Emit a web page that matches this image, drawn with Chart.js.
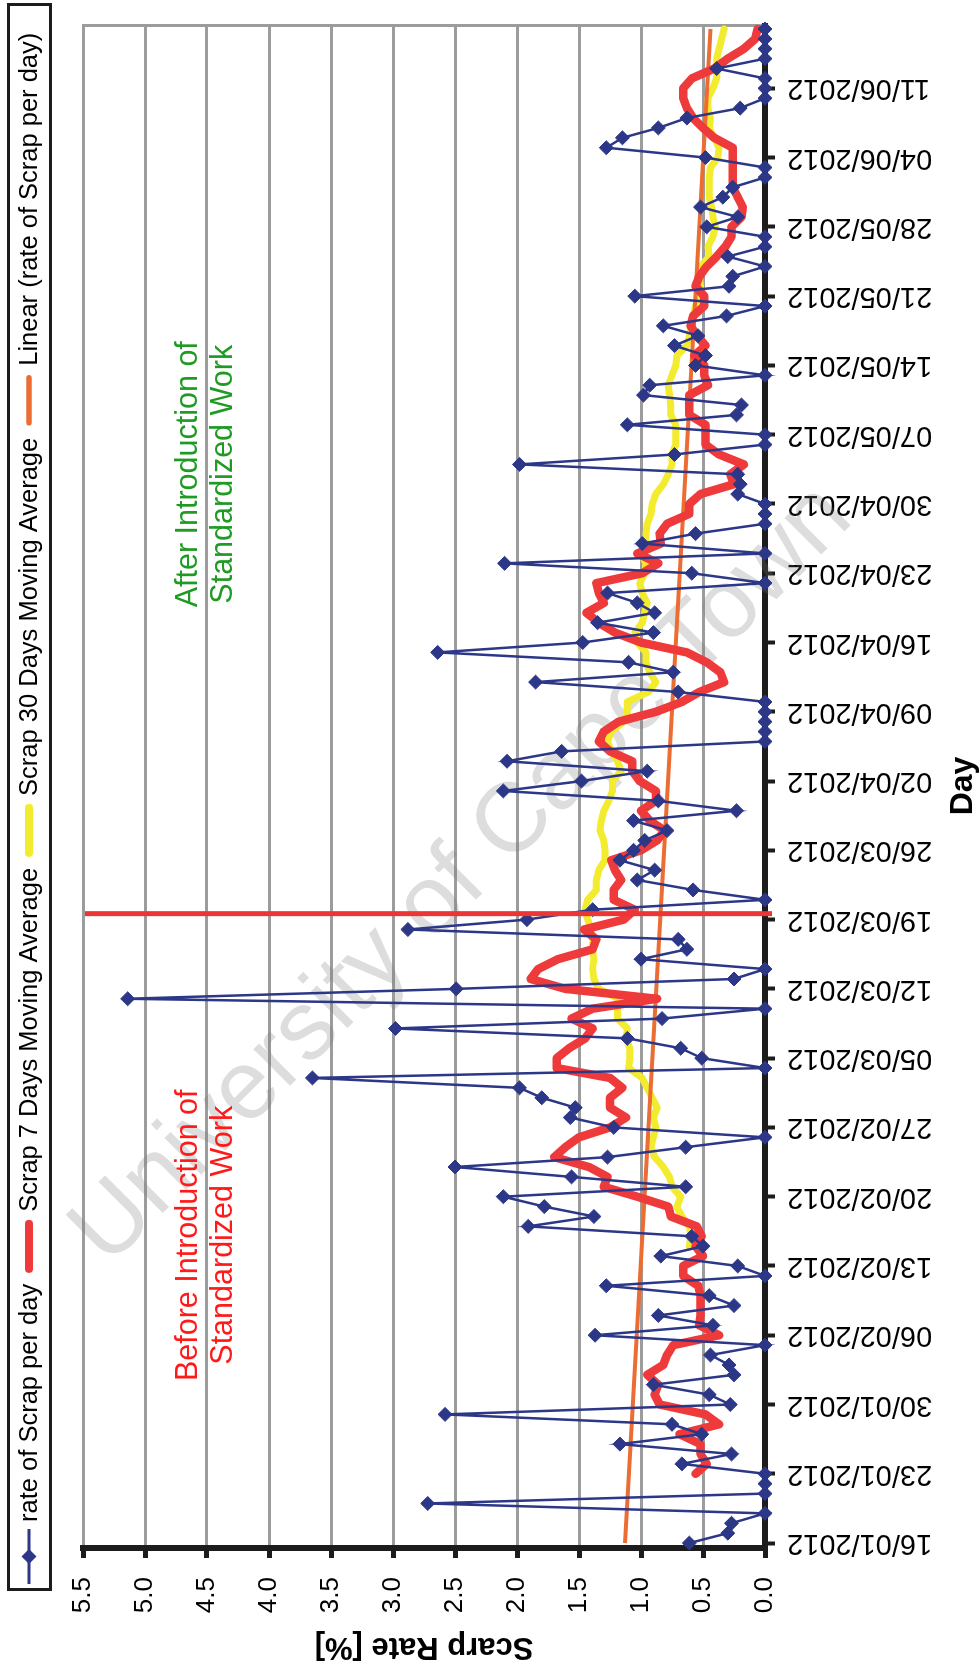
<!DOCTYPE html>
<html>
<head>
<meta charset="utf-8">
<script src="https://cdn.jsdelivr.net/npm/chart.js@4.4.1/dist/chart.umd.min.js"></script>
<style>
html,body{margin:0;padding:0;width:980px;height:1675px;overflow:hidden;background:#fff}
#wrap{position:absolute;left:0;top:0;width:1675px;height:980px;transform-origin:0 0;transform:translate(0px,1675px) rotate(-90deg)}
canvas{display:block}
</style>
</head>
<body>
<div id="wrap"><canvas id="c" width="1675" height="980"></canvas></div>
<script>
// ---------------- DATA ----------------
const startDate = [2012, 0, 16];   // 16/01/2012
const dayCount = 154;              // 16/01/2012 .. 17/06/2012
const labelEvery = 7;

const scrapPerDay = [
  0.61,0.30,0.27,0,2.72,0,0,0,0.67,0.27,
  1.17,0.51,0.75,2.58,0.28,0.45,0.90,0.25,0.29,0.44,
  0,1.37,0.42,0.86,0.25,0.45,1.28,0,0.22,0.84,
  0.50,0.59,1.91,1.38,1.78,2.11,0.64,1.56,2.50,1.27,
  0.64,0,1.22,1.57,1.53,1.80,1.98,3.65,0,0.51,
  0.68,1.11,2.98,0.83,0,5.14,2.49,0.25,0,1.00,
  0.63,0.70,2.88,1.92,1.39,0,0.58,1.03,0.89,1.17,
  1.06,0.97,0.79,1.06,0.23,0.86,2.11,1.48,0.95,2.08,
  1.64,0,0,0,0,0,0.70,1.85,0.74,1.10,
  2.64,1.47,0.90,1.35,0.89,1.03,1.27,0,0.59,2.10,
  0,0.99,0.56,0,0,0,0.22,0.20,0.22,1.98,
  0.73,0,0,1.11,0.23,0.19,0.98,0.93,0,0.56,
  0.48,0.73,0.54,0.82,0.31,0,1.05,0.29,0.26,0,
  0.30,0,0,0.47,0.22,0.52,0.34,0.26,0,0,
  0.48,1.28,1.15,0.86,0.63,0.20,0,0,0,0.39,
  0,0,0,0
];

const movingAvg7 = [
  null,null,null,null,null,null,null,
  0.56,0.47,0.52,
  0.52,0.69,0.37,0.48,0.85,0.89,0.86,0.95,0.82,0.79,
  0.74,0.37,0.53,0.52,0.52,0.52,0.54,0.66,0.66,0.50,
  0.56,0.51,0.55,0.76,0.78,1.03,1.30,1.27,1.42,1.70,
  1.61,1.50,1.25,1.12,1.25,1.25,1.15,1.25,1.68,1.68,
  1.58,1.45,1.39,1.56,1.39,0.87,1.61,1.89,1.83,1.67,
  1.39,1.36,1.46,1.14,1.05,1.22,1.22,1.16,1.21,1.24,
  1.00,0.87,0.81,0.93,1.00,0.88,0.88,1.01,1.07,1.07,
  1.25,1.34,1.30,1.18,0.88,0.67,0.53,0.33,0.36,0.47,
  0.63,1.00,1.21,1.34,1.44,1.30,1.34,1.36,0.99,0.86,
  1.03,0.84,0.85,0.79,0.61,0.61,0.52,0.25,0.28,0.17,
  0.37,0.48,0.48,0.48,0.61,0.61,0.61,0.46,0.49,0.49,
  0.57,0.48,0.55,0.60,0.58,0.49,0.49,0.56,0.53,0.47,
  0.39,0.32,0.27,0.27,0.19,0.18,0.22,0.26,0.26,0.26,
  0.26,0.26,0.41,0.50,0.58,0.63,0.66,0.66,0.59,0.41,
  0.30,0.17,0.08,0.06
];

const movingAvg30 = [
  null,null,null,null,null,null,null,null,null,null,
  null,null,null,null,null,null,null,null,null,null,
  null,null,null,null,null,null,null,null,null,null,
  0.61,0.60,0.61,0.67,0.71,0.68,0.75,0.77,0.82,0.89,
  0.92,0.90,0.88,0.90,0.87,0.91,0.95,0.99,1.10,1.09,
  1.09,1.12,1.11,1.19,1.19,1.18,1.34,1.38,1.39,1.38,
  1.39,1.39,1.40,1.43,1.45,1.43,1.36,1.36,1.34,1.29,
  1.29,1.30,1.33,1.32,1.30,1.26,1.23,1.23,1.16,1.19,
  1.24,1.27,1.24,1.14,1.11,1.11,0.94,0.88,0.93,0.96,
  0.96,1.03,1.05,0.99,0.97,0.95,0.99,1.01,0.97,0.96,
  1.00,0.96,0.96,0.95,0.92,0.91,0.88,0.82,0.78,0.75,
  0.75,0.72,0.72,0.72,0.76,0.76,0.77,0.78,0.75,0.72,
  0.71,0.63,0.61,0.60,0.58,0.56,0.53,0.52,0.53,0.52,
  0.45,0.46,0.42,0.40,0.42,0.43,0.45,0.45,0.45,0.44,
  0.38,0.37,0.41,0.45,0.44,0.46,0.46,0.42,0.39,0.39,
  0.39,0.37,0.35,0.33
];

const linearStart = 1.13;   // trend value on first day
const linearEnd = 0.44;     // trend value on last day

const seriesLabels = [
  'rate of Scrap per day',
  'Scrap 7 Days Moving Average',
  'Scrap 30 Days Moving Average',
  'Linear (rate of Scrap per day)'
];
const introductionIndex = 63.6;   // 19/03/2012 (vertical marker)
const annotationBefore = ['Before Introduction of', 'Standardized Work'];
const annotationAfter = ['After Introduction of', 'Standardized Work'];
const watermarkText = 'University of Cape Town';

// ---------------- CATEGORIES ----------------
const categories = [];
for (let i = 0; i < dayCount; i++) {
  const d = new Date(Date.UTC(startDate[0], startDate[1], startDate[2] + i));
  const dd = String(d.getUTCDate()).padStart(2, '0');
  const mm = String(d.getUTCMonth() + 1).padStart(2, '0');
  categories.push(dd + '/' + mm + '/' + d.getUTCFullYear());
}
const linearTrend = categories.map((c, i) => i === 0 ? linearStart : (i === dayCount - 1 ? linearEnd : null));

// ---------------- STYLE ----------------
const FONT = '"Liberation Sans", Arial, Helvetica, sans-serif';
Chart.defaults.font.family = FONT;
Chart.defaults.color = '#000';
const NAVY = '#2c3788', RED = '#ef3a3c', YELLOW = '#f3ec2e', ORANGE = '#ec6d34', GRID = '#9c9c9c', AXIS = '#1c1c1c';

const decor = {
  id: 'decor',
  beforeDatasetsDraw(chart) {
    const {ctx, chartArea: a, scales: {x, y}} = chart;
    ctx.save();
    ctx.strokeStyle = GRID; ctx.lineWidth = 3;
    ctx.beginPath(); ctx.moveTo(a.right - 1.5, a.top); ctx.lineTo(a.right - 1.5, a.bottom); ctx.stroke();
    // watermark
    ctx.translate(x.getPixelForValue(67.5), y.getPixelForValue(2.44));
    ctx.rotate(Math.PI / 4);
    ctx.font = '98px ' + FONT;
    ctx.fillStyle = 'rgba(120,120,120,0.25)';
    ctx.textAlign = 'center'; ctx.textBaseline = 'middle';
    ctx.fillText(watermarkText, 0, 0);
    ctx.restore();
  },
  afterDatasetsDraw(chart) {
    const {ctx, chartArea: a, scales: {x, y}} = chart;
    ctx.save();
    const lx = x.getPixelForValue(introductionIndex);
    ctx.strokeStyle = '#ec3535'; ctx.lineWidth = 5;
    ctx.beginPath(); ctx.moveTo(lx, a.top + 2); ctx.lineTo(lx, a.bottom + 7); ctx.stroke();
    ctx.font = '30.5px ' + FONT;
    ctx.textAlign = 'center'; ctx.textBaseline = 'alphabetic';
    ctx.fillStyle = '#ff1a1a';
    const bx = x.getPixelForValue(31.1);
    ctx.fillText(annotationBefore[0], bx, y.getPixelForValue(4.58));
    ctx.fillText(annotationBefore[1], bx, y.getPixelForValue(4.30));
    ctx.fillStyle = '#1f9a23';
    const ax = x.getPixelForValue(108.0);
    ctx.fillText(annotationAfter[0], ax, y.getPixelForValue(4.58));
    ctx.fillText(annotationAfter[1], ax, y.getPixelForValue(4.30));
    ctx.restore();
  },
  afterDraw(chart) {
    const {ctx} = chart;
    ctx.save();
    ctx.strokeStyle = AXIS; ctx.lineWidth = 3;
    ctx.strokeRect(85.5, 8.5, 1585, 42);
    ctx.font = '25.5px ' + FONT;
    ctx.textAlign = 'left'; ctx.textBaseline = 'alphabetic';
    let px = 91; const cy = 29;
    chart.data.datasets.forEach((ds, i) => {
      ctx.strokeStyle = ds.borderColor;
      if (i === 0) {
        ctx.lineWidth = 3; ctx.lineCap = 'butt';
        ctx.beginPath(); ctx.moveTo(px, cy); ctx.lineTo(px + 55, cy); ctx.stroke();
        const cx = px + 27.5;
        ctx.fillStyle = ds.borderColor;
        ctx.beginPath(); ctx.moveTo(cx, cy - 7.5); ctx.lineTo(cx + 7.5, cy); ctx.lineTo(cx, cy + 7.5); ctx.lineTo(cx - 7.5, cy); ctx.closePath(); ctx.fill();
      } else {
        ctx.lineWidth = i === 3 ? 5.5 : 8; ctx.lineCap = 'round';
        ctx.beginPath(); ctx.moveTo(px + 5, cy); ctx.lineTo(px + 50, cy); ctx.stroke();
      }
      px += 62;
      ctx.fillStyle = '#000';
      ctx.fillText(ds.label, px, cy + 8);
      px += ctx.measureText(ds.label).width + 10;
    });
    ctx.restore();
  }
};

new Chart(document.getElementById('c'), {
  type: 'line',
  data: {
    labels: categories,
    datasets: [
      { label: seriesLabels[0], data: scrapPerDay, borderColor: NAVY, backgroundColor: NAVY, borderWidth: 2.5,
        pointStyle: 'rectRot', pointRadius: 7, pointBackgroundColor: NAVY, pointBorderColor: NAVY, pointBorderWidth: 1,
        tension: 0, clip: false, order: 0 },
      { label: seriesLabels[1], data: movingAvg7, borderColor: RED, borderWidth: 8.5, pointRadius: 0,
        borderJoinStyle: 'round', borderCapStyle: 'round', tension: 0, order: 1 },
      { label: seriesLabels[2], data: movingAvg30, borderColor: YELLOW, borderWidth: 7, pointRadius: 0,
        borderJoinStyle: 'round', borderCapStyle: 'round', tension: 0, order: 3 },
      { label: seriesLabels[3], data: linearTrend, borderColor: ORANGE, borderWidth: 4, pointRadius: 0,
        spanGaps: true, tension: 0, order: 2 }
    ]
  },
  options: {
    responsive: false, animation: false, devicePixelRatio: 1,
    layout: { padding: { top: 83, right: 24, left: 0, bottom: 0 } },
    plugins: { legend: { display: false }, tooltip: { enabled: false } },
    scales: {
      x: {
        type: 'category', offset: true,
        grid: { drawOnChartArea: false, drawTicks: true, tickLength: 10, tickWidth: 4,
                color: 'rgba(0,0,0,0)',
                tickColor: (c) => (c.index % labelEvery === 0 ? AXIS : 'rgba(0,0,0,0)') },
        border: { display: true, color: AXIS, width: 6 },
        ticks: { autoSkip: false, minRotation: 90, maxRotation: 90, padding: 12, color: '#000',
                 font: { size: 29 },
                 callback: (v, i) => (i % labelEvery === 0 ? categories[i] : '') },
        title: { display: true, text: 'Day', color: '#000', font: { size: 32, weight: 'bold', lineHeight: 1 },
                 padding: { top: 0, bottom: 1 } },
        afterFit: (s) => { s.height = 215; s.paddingLeft = 0; s.paddingRight = 0; }
      },
      y: {
        min: 0, max: 5.5,
        grid: { color: (c) => (c.tick && c.tick.value === 0 ? 'rgba(0,0,0,0)' : GRID), lineWidth: 3,
                drawTicks: true, tickLength: 10, tickWidth: 5, tickColor: AXIS },
        border: { display: true, color: AXIS, width: 6 },
        ticks: { stepSize: 0.5, padding: 19, color: '#000', font: { size: 26 },
                 callback: (v) => Number(v).toFixed(1) },
        title: { display: true, text: 'Scarp Rate [%]', color: '#000', font: { size: 31, weight: 'bold', lineHeight: 1.2 },
                 padding: { top: 10, bottom: 0 } },
        afterFit: (s) => { s.width = 127; s.paddingTop = 0; s.paddingBottom = 0; }
      }
    }
  },
  plugins: [decor]
});
</script>
</body>
</html>
